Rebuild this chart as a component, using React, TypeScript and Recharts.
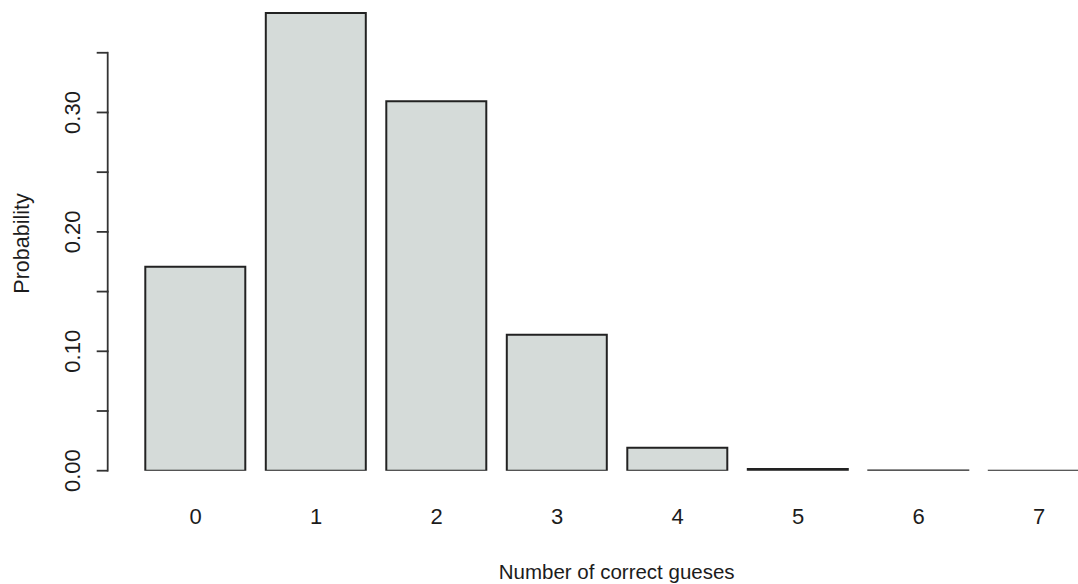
import React from 'react';
import { BarChart, Bar, XAxis, YAxis, Label } from 'recharts';

// ---- data ----
const categories = ['0', '1', '2', '3', '4', '5', '6', '7'];
const probabilities = [0.1709, 0.3833, 0.3094, 0.1139, 0.0193, 0.0015, 0.0001, 0.00001];
const yTicks = [0, 0.05, 0.1, 0.15, 0.2, 0.25, 0.3, 0.35];
const yTickLabels = ['0.00', '', '0.10', '', '0.20', '', '0.30', ''];
const xTitle = 'Number of correct gueses';
const yTitle = 'Probability';

const data = categories.map((k, i) => ({ k, p: probabilities[i] }));

// ---- layout ----
const W = 1110;
const H = 584;
const TOP = 5;
const Y0 = 470.7; // pixel of value 0
const Y_MAX = 0.39;
const PX_PER_UNIT = (Y0 - TOP) / Y_MAX;
const PLOT_LEFT = 135.25;
const PLOT_RIGHT = 1099.25;
const AXIS_X = 107.7;
const FONT = '"Liberation Sans", Arial, Helvetica, sans-serif';
const INK = '#1c1c1c';

const YTick = (props: any) => {
  const { y, payload } = props;
  const v = payload.value;
  const step = 0.05 * PX_PER_UNIT;
  const label = yTickLabels[yTicks.indexOf(v)] ?? '';
  return (
    <g>
      <line x1={AXIS_X - 11} x2={AXIS_X} y1={y} y2={y} stroke="#333" strokeWidth={1.8} />
      {v > 0 && <line x1={AXIS_X} x2={AXIS_X} y1={y - 0.9} y2={y + step + 0.9} stroke="#333" strokeWidth={1.8} />}
      {label && (
        <text
          transform={`translate(80,${y}) rotate(-90)`}
          textAnchor="middle"
          fontSize={22}
          fontFamily={FONT}
          fill={INK}
        >
          {label}
        </text>
      )}
    </g>
  );
};

const XTick = (props: any) => {
  const { x, payload } = props;
  return (
    <text x={x} y={Y0 + 53.6} textAnchor="middle" fontSize={22} fontFamily={FONT} fill={INK}>
      {payload.value}
    </text>
  );
};

export default function App() {
  return (
    <div style={{ position: 'absolute', left: 0, top: 0, width: 1078, height: 584, overflow: 'hidden', background: '#fff' }}>
      <BarChart
        width={W}
        height={H}
        data={data}
        margin={{ top: TOP, right: W - PLOT_RIGHT, bottom: 0, left: 0 }}
        barCategoryGap={10.05}
      >
        <XAxis
          dataKey="k"
          height={H - Y0}
          axisLine={false}
          tickLine={false}
          interval={0}
          tick={<XTick />}
        >
          <Label
            content={() => (
              <text x={616.7} y={579.3} textAnchor="middle" fontSize={20.5} fontFamily={FONT} fill={INK}>
                {xTitle}
              </text>
            )}
          />
        </XAxis>
        <YAxis
          type="number"
          domain={[0, Y_MAX]}
          allowDataOverflow
          ticks={yTicks}
          width={PLOT_LEFT}
          axisLine={false}
          tickLine={false}
          tick={<YTick />}
          interval={0}
        >
          <Label
            content={() => (
              <text
                transform="translate(28.8,243.5) rotate(-90)"
                textAnchor="middle"
                fontSize={21.5}
                fontFamily={FONT}
                fill={INK}
              >
                {yTitle}
              </text>
            )}
          />
        </YAxis>
        <Bar dataKey="p" fill="#d5dbd9" stroke="#222" strokeWidth={2} isAnimationActive={false} />
      </BarChart>
    </div>
  );
}
